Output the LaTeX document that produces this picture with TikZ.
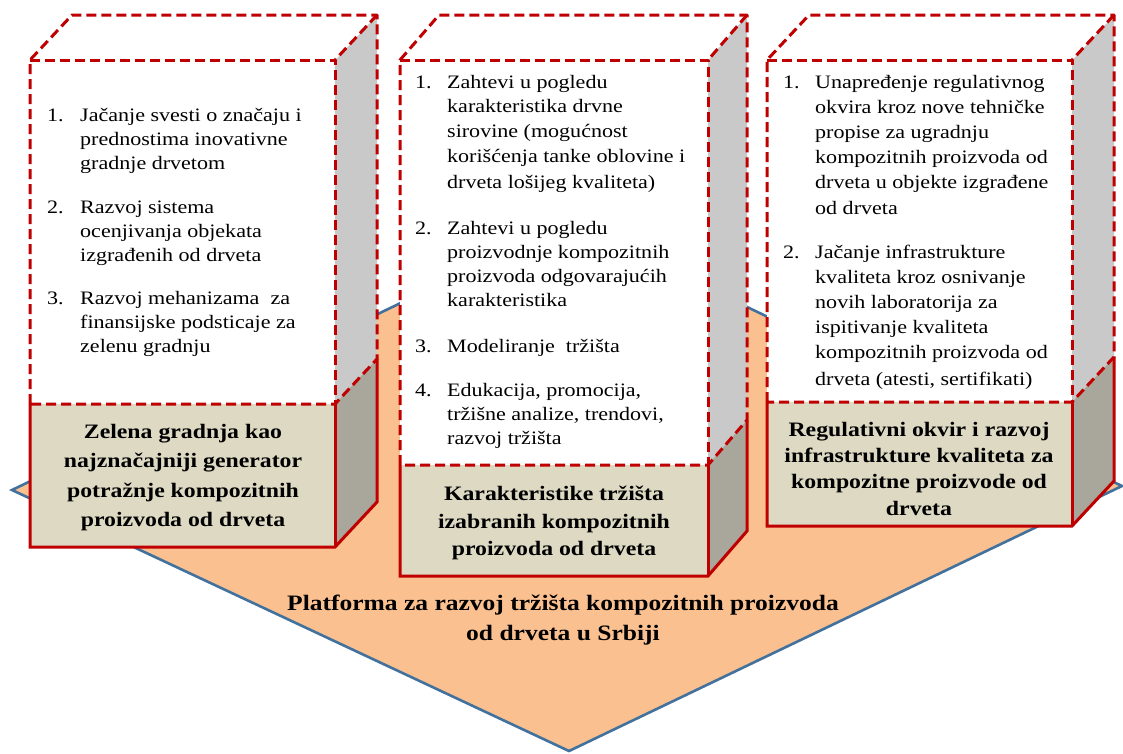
\documentclass[tikz,border=0pt]{standalone}
\usepackage{fontspec}
\setmainfont{Liberation Serif}[FakeStretch=1.16]
\definecolor{platfill}{HTML}{FAC090}
\definecolor{platline}{HTML}{41719C}
\definecolor{boxred}{HTML}{C00000}
\definecolor{sideup}{HTML}{C9C9C9}
\definecolor{sidelow}{HTML}{A9A69C}
\definecolor{tanfill}{HTML}{DDD9C3}
\newcommand{\drawcube}[7]{%
  \fill[sideup] (#2,#3) -- ({#2+#6},{#3+#7}) -- ({#2+#6},{#4+#7}) -- (#2,#4) -- cycle;
  \fill[sidelow] (#2,#4) -- ({#2+#6},{#4+#7}) -- ({#2+#6},{#5+#7}) -- (#2,#5) -- cycle;
  \fill[white] (#1,#3) -- ({#1+#6},{#3+#7}) -- ({#2+#6},{#3+#7}) -- (#2,#3) -- cycle;
  \fill[white] (#1,#3) rectangle (#2,#4);
  \fill[tanfill] (#1,#4) rectangle (#2,#5);
  \draw[solidedge] (#1,#4) -- (#1,#5) -- (#2,#5) -- ({#2+#6},{#5+#7}) -- ({#2+#6},{#4+#7});
  \draw[solidedge] (#2,#4) -- (#2,#5);
  \draw[dashedge] (#1,#4) -- (#1,#3) -- ({#1+#6},{#3+#7}) -- ({#2+#6},{#3+#7}) -- ({#2+#6},{#4+#7}) -- (#2,#4) -- cycle;
  \draw[dashedge] (#1,#3) -- (#2,#3) -- (#2,#4);
  \draw[dashedge] ({#2+#6},{#3+#7}) -- (#2,#3);
}
\begin{document}
\begin{tikzpicture}[x=1pt,y=-1pt,
  platform/.style={fill=platfill,draw=platline,line width=2.6pt,line join=miter},
  solidedge/.style={draw=boxred,line width=3pt,line join=miter},
  dashedge/.style={draw=boxred,line width=3pt,dash pattern=on 10pt off 5pt,line join=round},
  item/.style={anchor=base west,inner sep=0pt,font=\fontsize{19}{23}\selectfont},
  lab/.style={anchor=base,inner sep=0pt,font=\bfseries\fontsize{20.5}{29}\selectfont},
  plat/.style={anchor=base,inner sep=0pt,font=\bfseries\fontsize{22}{29}\selectfont}]
\useasboundingbox (0,0) rectangle (1123,753);
\fill[white] (0,0) rectangle (1123,753);
% platform diamond
\coordinate (dT) at (569,222);
\coordinate (dR) at (1122,486);
\coordinate (dB) at (569,751);
\coordinate (dL) at (12,490);
\draw[platform] (dT) -- (dR) -- (dB) -- (dL) -- cycle;
\node[plat] (p1) at (563,610) {Platforma za razvoj tržišta kompozitnih proizvoda};
\node[plat] (p2) at (563,640) {od drveta u Srbiji};
% cubes
\drawcube{30}{335}{60}{404}{547}{42}{-45}
\drawcube{400}{708}{60}{465}{576}{39}{-45}
\drawcube{767}{1072}{60}{402}{526}{42}{-45}
% box 1 list
\node[item] (aN1) at (47,121) {1.};
\node[item] (aN2) at (47,213) {2.};
\node[item] (aN3) at (47,304) {3.};
\foreach \y/\t [count=\i] in {121/{Jačanje svesti o značaju i},145/{prednostima inovativne},169/{gradnje drvetom},
  213/{Razvoj sistema},237/{ocenjivanja objekata},261/{izgrađenih od drveta},
  304/{Razvoj mehanizama\ \ za},328/{finansijske podsticaje za},352/{zelenu gradnju}}
  \node[item] (aT\i) at (80,\y) {\t};
% box 2 list
\node[item] (bN1) at (415,88) {1.};
\node[item] (bN2) at (415,234) {2.};
\node[item] (bN3) at (415,352) {3.};
\node[item] (bN4) at (415,396) {4.};
\foreach \y/\t [count=\i] in {88/{Zahtevi u pogledu},112/{karakteristika drvne},137/{sirovine (mogućnost},162/{korišćenja tanke oblovine i},188/{drveta lošijeg kvaliteta)},
  234/{Zahtevi u pogledu},258/{proizvodnje kompozitnih},282/{proizvoda odgovarajućih},306/{karakteristika},
  352/{Modeliranje\ \ tržišta},
  396/{Edukacija, promocija,},420/{tržišne analize, trendovi,},444/{razvoj tržišta}}
  \node[item] (bT\i) at (447,\y) {\t};
% box 3 list
\node[item] (cN1) at (783,88) {1.};
\node[item] (cN2) at (783,258) {2.};
\foreach \y/\t [count=\i] in {88/{Unapređenje regulativnog},113/{okvira kroz nove tehničke},138/{propise za ugradnju},163/{kompozitnih proizvoda od},188/{drveta u objekte izgrađene},214/{od drveta},
  258/{Jačanje infrastrukture},283/{kvaliteta kroz osnivanje},308/{novih laboratorija za},333/{ispitivanje kvaliteta},358/{kompozitnih proizvoda od},385/{drveta (atesti, sertifikati)}}
  \node[item] (cT\i) at (815,\y) {\t};
% labels
\foreach \y/\t [count=\i] in {438/{Zelena gradnja kao},467/{najznačajniji generator},497/{potražnje kompozitnih},526/{proizvoda od drveta}}
  \node[lab] (aL\i) at (183,\y) {\t};
\foreach \y/\t [count=\i] in {500/{Karakteristike tržišta},528/{izabranih kompozitnih},555/{proizvoda od drveta}}
  \node[lab] (bL\i) at (554,\y) {\t};
\foreach \y/\t [count=\i] in {436/{Regulativni okvir i razvoj},462/{infrastrukture kvaliteta za},488/{kompozitne proizvode od},515/{drveta}}
  \node[lab] (cL\i) at (919,\y) {\t};
\end{tikzpicture}
\end{document}
